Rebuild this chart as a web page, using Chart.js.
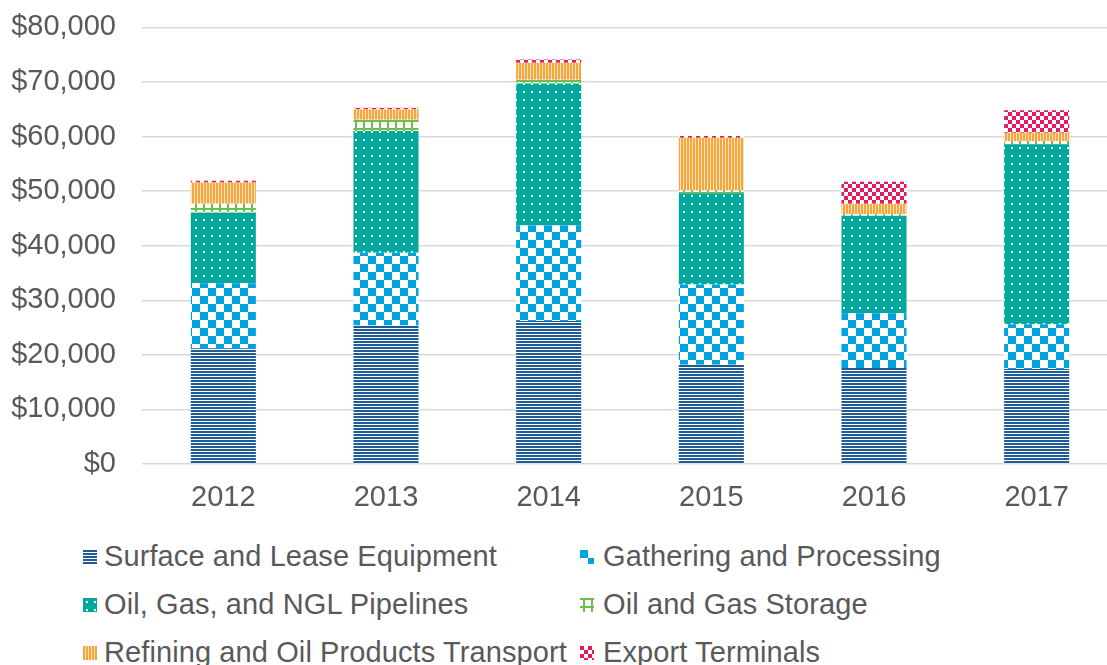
<!DOCTYPE html>
<html>
<head>
<meta charset="utf-8">
<script src="https://cdn.jsdelivr.net/npm/chart.js@4.4.1/dist/chart.umd.min.js"></script>
<style>
  html, body { margin: 0; padding: 0; background: #fff; overflow: hidden; width: 1107px; height: 665px; }
  #wrap { position: relative; width: 1120px; height: 665px; }
  #c { position: absolute; left: 0; top: -16px; }
  .lg { position: absolute; font-family: "Liberation Sans", Arial, sans-serif; font-size: 29px; color: #595959; white-space: nowrap; line-height: 33px; letter-spacing: 0.1px; }
  .mk { position: absolute; width: 14px; height: 14px; }
</style>
</head>
<body>
<div id="wrap">
  <canvas id="c" width="1120" height="536"></canvas>
  <div id="legend"></div>
</div>
<script>
const categories = ["2012", "2013", "2014", "2015", "2016", "2017"];
const seriesNames = [
  "Surface and Lease Equipment",
  "Gathering and Processing",
  "Oil, Gas, and NGL Pipelines",
  "Oil and Gas Storage",
  "Refining and Oil Products Transport",
  "Export Terminals"
];
const surfaceLease = [21200, 25400, 26200, 18200, 17600, 17400];
const gatheringProcessing = [11900, 13300, 17500, 14700, 10000, 8200];
const pipelines = [13000, 22300, 26000, 16700, 17900, 33000];
const storage = [1600, 2100, 700, 500, 300, 600];
const refining = [3900, 1900, 3100, 9700, 1900, 1500];
const exportTerminals = [300, 300, 600, 300, 4000, 4100];
const yTicks = [0, 10000, 20000, 30000, 40000, 50000, 60000, 70000, 80000];

function makePattern(w, h, draw) {
  const c = document.createElement('canvas');
  c.width = w; c.height = h;
  const g = c.getContext('2d');
  draw(g);
  return document.getElementById('c').getContext('2d').createPattern(c, 'repeat');
}
const painters = [
  g => { g.fillStyle = '#fff'; g.fillRect(0,0,1,3); g.fillStyle = '#1f5b96'; g.fillRect(0,0,1,2); },
  g => { g.fillStyle = '#fff'; g.fillRect(0,0,16,16); g.fillStyle = '#00a3e0'; g.fillRect(0,0,8,8); g.fillRect(8,8,8,8); },
  g => { g.fillStyle = '#00a99d'; g.fillRect(0,0,8,8); g.fillStyle = '#ffffff'; g.fillRect(3,3,2,2); },
  g => { g.fillStyle = '#fff'; g.fillRect(0,0,8,8); g.fillStyle = '#6cbf4a'; g.fillRect(0,0,8,2); g.fillRect(3,0,2,8); },
  g => { g.fillStyle = '#fde4c0'; g.fillRect(0,0,3,1); g.fillStyle = '#f8a63c'; g.fillRect(0,0,2,1); },
  g => { g.fillStyle = '#fff'; g.fillRect(0,0,8,8); g.fillStyle = '#e5195e'; g.fillRect(0,0,4,4); g.fillRect(4,4,4,4); }
];
const tileSizes = [[1,3],[16,16],[8,8],[8,8],[3,1],[8,8]];
const patterns = painters.map((p, i) => makePattern(tileSizes[i][0], tileSizes[i][1], p));
const seriesData = [surfaceLease, gatheringProcessing, pipelines, storage, refining, exportTerminals];

const FONT = "'Liberation Sans', Arial, sans-serif";
const datasets = seriesNames.map((name, i) => ({
  label: name,
  data: seriesData[i],
  backgroundColor: patterns[i],
  borderWidth: 0,
  barPercentage: 1,
  categoryPercentage: 0.4
}));

new Chart(document.getElementById('c'), {
  type: 'bar',
  data: { labels: categories, datasets },
  options: {
    responsive: false,
    animation: false,
    devicePixelRatio: 1,
    layout: { padding: { top: 10, right: 2, left: 0, bottom: 0 } },
    plugins: { legend: { display: false }, tooltip: { enabled: false } },
    scales: {
      x: {
        stacked: true,
        grid: { display: false, drawTicks: false },
        border: { display: false },
        ticks: { color: '#595959', font: { family: FONT, size: 29 }, padding: 17 },
        afterFit: s => { s.height = 56; }
      },
      y: {
        stacked: true,
        min: 0, max: 80000,
        afterBuildTicks: s => { s.ticks = yTicks.map(v => ({ value: v })); },
        grid: { color: '#d9d9d9', lineWidth: 1.5, drawTicks: false },
        border: { display: false },
        ticks: {
          color: '#595959', font: { family: FONT, size: 29 }, padding: 26,
          callback: v => '$' + Number(v).toLocaleString('en-US')
        },
        afterFit: s => { s.width = 142; }
      }
    }
  }
});

// HTML legend (two columns, three rows)
const legend = document.getElementById('legend');
const colX = [[83, 104], [580, 603]];
const rowTop = [540, 588, 636];
seriesNames.forEach((name, i) => {
  const col = i % 2, row = Math.floor(i / 2);
  const mk = document.createElement('canvas');
  mk.className = 'mk'; mk.width = 14; mk.height = 14;
  mk.style.left = colX[col][0] + 'px';
  mk.style.top = (rowTop[row] + 10) + 'px';
  const g = mk.getContext('2d');
  const pc = document.createElement('canvas');
  pc.width = tileSizes[i][0]; pc.height = tileSizes[i][1];
  painters[i](pc.getContext('2d'));
  g.fillStyle = g.createPattern(pc, 'repeat');
  g.fillRect(0, 0, 14, 14);
  legend.appendChild(mk);
  const t = document.createElement('div');
  t.className = 'lg';
  t.textContent = name;
  t.style.left = colX[col][1] + 'px';
  t.style.top = rowTop[row] + 'px';
  legend.appendChild(t);
});
</script>
</body>
</html>
